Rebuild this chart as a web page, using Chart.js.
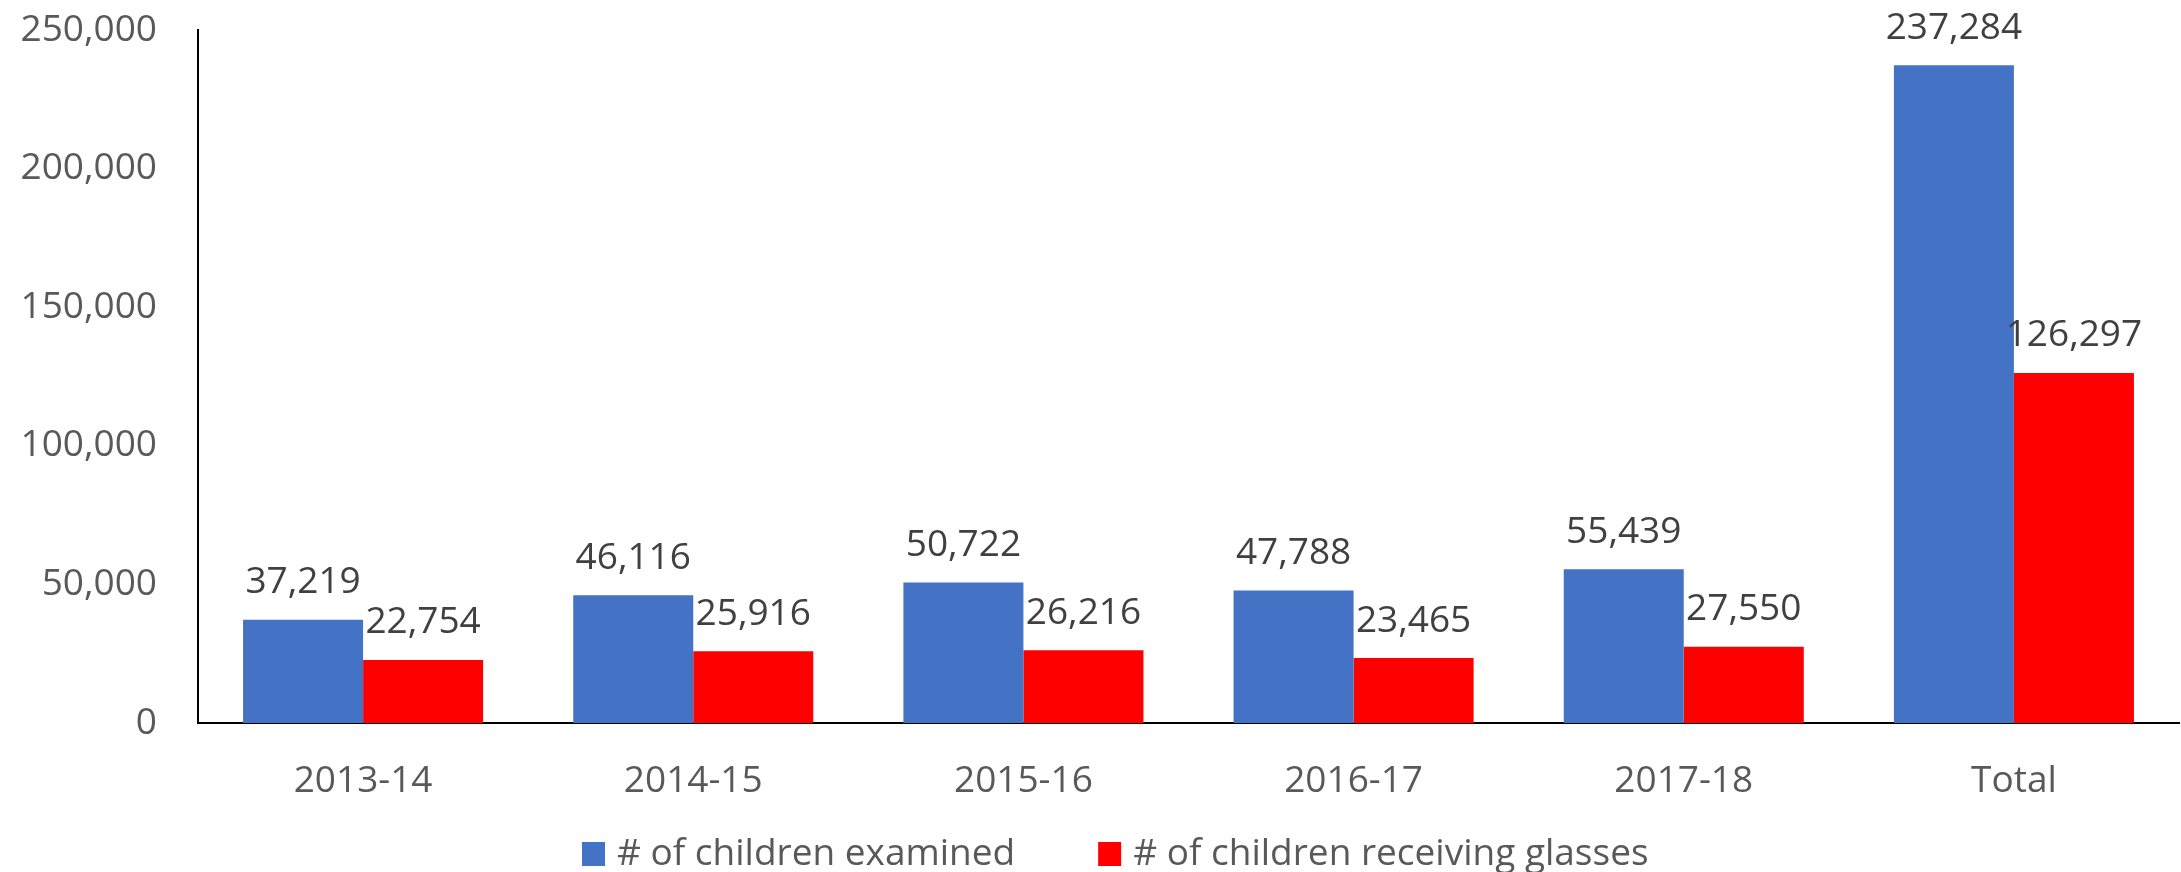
<!DOCTYPE html>
<html>
<head>
<meta charset="utf-8">
<script src="https://cdn.jsdelivr.net/npm/chart.js@4/dist/chart.umd.min.js"></script>
<style>
  html, body { margin: 0; padding: 0; background: #fff; }
  #wrap { width: 2181px; height: 872px; position: relative; }
</style>
</head>
<body>
<div id="wrap"><canvas id="c" width="2181" height="872"></canvas></div>
<script>
const categories = ['2013-14', '2014-15', '2015-16', '2016-17', '2017-18', 'Total'];
const examined = [37219, 46116, 50722, 47788, 55439, 237284];
const glasses = [22754, 25916, 26216, 23465, 27550, 126297];
const seriesNames = ['# of children examined', '# of children receiving glasses'];
const yTicks = [0, 50000, 100000, 150000, 200000, 250000];

const FONT = '"Open Sans", "DejaVu Sans", sans-serif';
const fmt = v => v.toLocaleString('en-US');

const valueLabels = {
  id: 'valueLabels',
  afterDatasetsDraw(chart) {
    const ctx = chart.ctx;
    ctx.save();
    ctx.font = '37px ' + FONT;
    ctx.fillStyle = '#404040';
    ctx.textAlign = 'center';
    ctx.textBaseline = 'middle';
    chart.data.datasets.forEach((ds, i) => {
      chart.getDatasetMeta(i).data.forEach((bar, j) => {
        ctx.fillText(fmt(ds.data[j]), bar.x, bar.y - 37);
      });
    });
    ctx.restore();
  }
};

const customLegend = {
  id: 'customLegend',
  afterDraw(chart) {
    const ctx = chart.ctx;
    ctx.save();
    ctx.font = '37px ' + FONT;
    ctx.textBaseline = 'middle';
    ctx.textAlign = 'left';
    let x = 582;
    const cy = 854;
    chart.data.datasets.forEach((ds) => {
      ctx.fillStyle = ds.backgroundColor;
      ctx.fillRect(x, cy - 12, 23, 24);
      x += 23 + 12;
      ctx.fillStyle = '#595959';
      ctx.fillText(ds.label, x, cy);
      x += ctx.measureText(ds.label).width + 83;
    });
    ctx.restore();
  }
};

new Chart(document.getElementById('c'), {
  type: 'bar',
  data: {
    labels: categories,
    datasets: [
      { label: seriesNames[0], data: examined, backgroundColor: '#4472C4', borderWidth: 0 },
      { label: seriesNames[1], data: glasses, backgroundColor: '#FF0000', borderWidth: 0 }
    ]
  },
  options: {
    responsive: false,
    animation: false,
    devicePixelRatio: 1,
    layout: { padding: { top: 30, right: 2, bottom: 59, left: 0 } },
    plugins: { legend: { display: false }, tooltip: { enabled: false } },
    datasets: { bar: { categoryPercentage: 0.727, barPercentage: 1.0 } },
    scales: {
      x: {
        grid: { display: false, drawTicks: false },
        border: { display: true, color: '#000', width: 2 },
        ticks: { color: '#595959', font: { family: FONT, size: 37 }, padding: 36, maxRotation: 0 },
        afterFit(scale) { scale.height = 90; scale.paddingLeft = 0; scale.paddingRight = 0; }
      },
      y: {
        min: 0, max: 250000,
        grid: { display: false, drawTicks: false },
        border: { display: true, color: '#000', width: 2 },
        afterBuildTicks(scale) { scale.ticks = yTicks.map(v => ({ value: v })); },
        ticks: { color: '#595959', font: { family: FONT, size: 37 }, padding: 41, callback: v => fmt(v) },
        afterFit(scale) { scale.width = 198; scale.paddingTop = 0; scale.paddingBottom = 0; }
      }
    }
  },
  plugins: [valueLabels, customLegend]
});
</script>
</body>
</html>
